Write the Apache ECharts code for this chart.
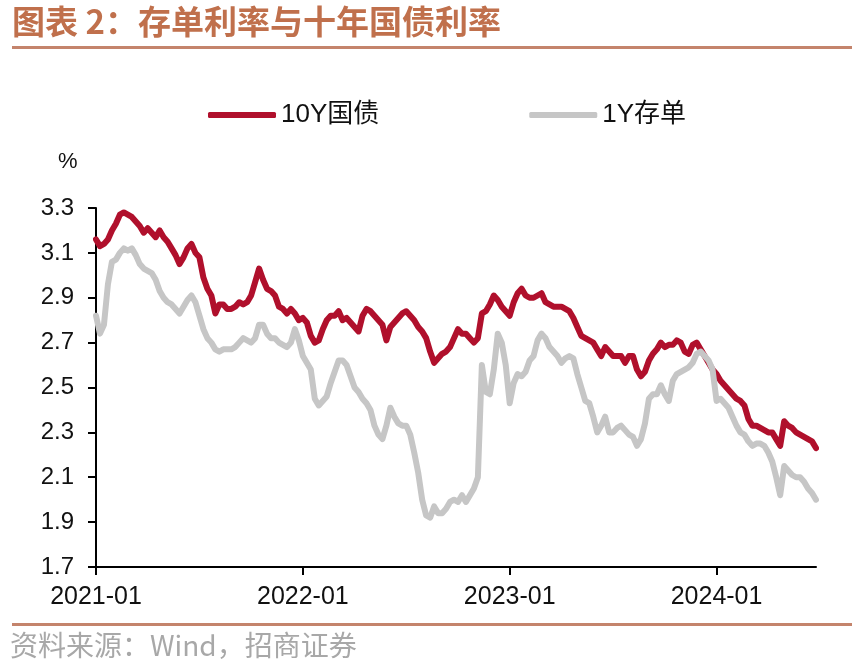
<!DOCTYPE html>
<html>
<head>
<meta charset="utf-8">
<script src="https://cdn.jsdelivr.net/npm/echarts@6/dist/echarts.min.js"></script>
<style>
html,body{margin:0;padding:0;background:#fff;}
#c{width:862px;height:672px;}
</style>
</head>
<body>
<div id="c"></div>
<script>
// Weekly observations starting 2021-01-04
const startDate = '2021-01-04';
const weekCount = 182;
const yTicks = [1.7, 1.9, 2.1, 2.3, 2.5, 2.7, 2.9, 3.1, 3.3];
const seriesNames = ['10Y国债', '1Y存单'];

const bond10Y = [
3.16,3.13,3.14,3.16,3.20,3.23,3.27,3.28,3.27,3.26,
3.24,3.22,3.19,3.21,3.19,3.17,3.20,3.17,3.15,3.12,
3.09,3.05,3.08,3.12,3.14,3.10,3.08,2.99,2.94,2.91,
2.83,2.87,2.87,2.85,2.85,2.86,2.88,2.87,2.88,2.91,
2.97,3.03,2.98,2.94,2.93,2.91,2.86,2.85,2.83,2.85,
2.83,2.80,2.81,2.79,2.73,2.70,2.71,2.76,2.80,2.82,
2.82,2.84,2.80,2.81,2.79,2.77,2.75,2.82,2.85,2.84,
2.82,2.80,2.78,2.71,2.77,2.79,2.81,2.83,2.84,2.82,
2.80,2.77,2.75,2.72,2.66,2.61,2.63,2.65,2.66,2.68,
2.72,2.76,2.74,2.74,2.72,2.70,2.72,2.83,2.84,2.87,
2.91,2.89,2.86,2.84,2.82,2.88,2.92,2.94,2.91,2.90,
2.90,2.91,2.92,2.88,2.87,2.86,2.86,2.86,2.85,2.84,
2.81,2.77,2.73,2.72,2.71,2.70,2.67,2.64,2.68,2.66,
2.64,2.64,2.64,2.61,2.64,2.64,2.58,2.55,2.57,2.62,
2.65,2.67,2.70,2.68,2.69,2.69,2.71,2.70,2.66,2.65,
2.69,2.70,2.67,2.64,2.61,2.58,2.56,2.53,2.51,2.49,
2.47,2.45,2.44,2.42,2.36,2.33,2.33,2.32,2.31,2.30,
2.30,2.27,2.24,2.35,2.33,2.32,2.30,2.29,2.28,2.27,
2.26,2.23
];

const ncd1Y = [
2.82,2.74,2.78,2.96,3.06,3.07,3.10,3.12,3.11,3.12,
3.09,3.05,3.03,3.02,3.01,2.98,2.93,2.90,2.88,2.87,
2.85,2.83,2.86,2.89,2.91,2.88,2.82,2.76,2.72,2.70,
2.67,2.66,2.67,2.67,2.67,2.68,2.70,2.72,2.71,2.70,
2.72,2.78,2.78,2.74,2.72,2.72,2.70,2.69,2.68,2.70,
2.76,2.71,2.64,2.61,2.58,2.45,2.42,2.44,2.46,2.52,
2.57,2.62,2.62,2.60,2.55,2.50,2.48,2.45,2.43,2.40,
2.33,2.29,2.27,2.33,2.41,2.37,2.34,2.33,2.33,2.29,
2.21,2.12,2.00,1.93,1.92,1.97,1.94,1.94,1.96,1.99,
2.00,1.99,2.02,1.99,2.02,2.05,2.10,2.60,2.48,2.47,
2.58,2.74,2.70,2.60,2.43,2.52,2.56,2.55,2.57,2.62,
2.64,2.71,2.74,2.72,2.68,2.66,2.64,2.61,2.63,2.64,
2.63,2.56,2.50,2.44,2.43,2.37,2.30,2.33,2.37,2.30,
2.30,2.32,2.33,2.31,2.29,2.28,2.24,2.27,2.34,2.45,
2.47,2.47,2.51,2.47,2.44,2.53,2.56,2.57,2.58,2.59,
2.61,2.65,2.66,2.64,2.62,2.58,2.44,2.45,2.43,2.41,
2.37,2.33,2.30,2.29,2.26,2.24,2.25,2.25,2.24,2.21,
2.17,2.10,2.02,2.15,2.13,2.11,2.10,2.10,2.08,2.05,
2.03,2.00
];

function buildWeeklyDates(start, n) {
  const out = [];
  const d0 = new Date(start + 'T00:00:00Z');
  for (let i = 0; i < n; i++) {
    const d = new Date(d0.getTime() + i * 7 * 86400000);
    out.push(d.toISOString().slice(0, 10));
  }
  return out;
}
const dates = buildWeeklyDates(startDate, weekCount);

function isYearStart(index, value) {
  return value.slice(5, 7) === '01' && Number(value.slice(8, 10)) <= 7;
}

const chart = echarts.init(document.getElementById('c'), null, {renderer: 'canvas'});
const FONT = 'Liberation Sans, Arial, sans-serif';
const option = {
  backgroundColor: '#ffffff',
  animation: false,
  graphic: [
    {type: 'text', left: 12, top: 5, style: {text: '图表 2：存单利率与十年国债利率', fill: '#C0704C', font: 'bold 33px "Noto Sans CJK SC", sans-serif'}},
    {type: 'rect', shape: {x: 12, y: 46, width: 840, height: 3}, style: {fill: '#C4846C'}},
    {type: 'text', left: 58, top: 151, style: {text: '%', fill: '#111', font: '22px ' + FONT}},
    {type: 'rect', shape: {x: 12, y: 623, width: 840, height: 3}, style: {fill: '#C4846C'}},
    {type: 'text', left: 10, top: 631, style: {text: '资料来源：Wind，招商证券', fill: '#A8A8A8', font: '28px "Noto Sans CJK SC", sans-serif'}}
  ],
  legend: {
    left: 203, top: 97,
    itemWidth: 68, itemHeight: 6, itemGap: 150,
    textStyle: {fontSize: 26, color: '#111', fontFamily: FONT + ', "Noto Sans CJK SC"'},
    data: [
      {name: seriesNames[0], icon: 'roundRect'},
      {name: seriesNames[1], icon: 'roundRect'}
    ]
  },
  grid: {left: 96, top: 208, width: 720, height: 359, containLabel: false},
  xAxis: {
    type: 'category',
    data: dates,
    boundaryGap: false,
    axisLine: {lineStyle: {color: '#000', width: 2}},
    axisTick: {show: true, interval: isYearStart, length: 8, lineStyle: {color: '#000', width: 2}},
    axisLabel: {interval: isYearStart, margin: 18, fontSize: 25, color: '#111', fontFamily: FONT,
      formatter: v => v.slice(0, 7)},
    splitLine: {show: false}
  },
  yAxis: {
    type: 'value',
    min: yTicks[0], max: yTicks[yTicks.length - 1], interval: 0.2,
    axisLine: {show: true, lineStyle: {color: '#000', width: 2}},
    axisTick: {show: true, length: 8, lineStyle: {color: '#000', width: 2}},
    axisLabel: {margin: 22, fontSize: 24, color: '#111', fontFamily: FONT, formatter: v => v.toFixed(1)},
    splitLine: {show: false}
  },
  series: [
    {name: seriesNames[0], type: 'line', data: bond10Y, showSymbol: false, symbol: 'none',
      lineStyle: {color: '#B0102C', width: 6, join: 'round', cap: 'round'}, itemStyle: {color: '#B0102C'}},
    {name: seriesNames[1], type: 'line', data: ncd1Y, showSymbol: false, symbol: 'none',
      lineStyle: {color: '#C6C6C6', width: 6, join: 'round', cap: 'round'}, itemStyle: {color: '#C6C6C6'}}
  ]
};
chart.setOption(option);
</script>
</body>
</html>
